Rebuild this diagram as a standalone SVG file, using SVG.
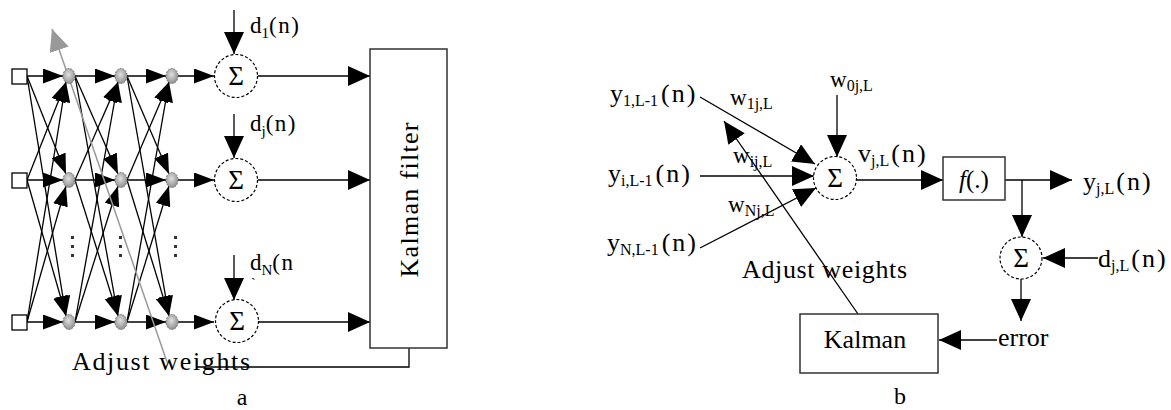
<svg xmlns="http://www.w3.org/2000/svg" width="1171" height="410" viewBox="0 0 1171 410">
<defs>
<style>
text{font-family:"Liberation Serif","DejaVu Serif",serif;fill:#000}
.ta{font-size:23px}
.tb{font-size:26px}
.sa{font-size:15px}
.sb{font-size:16px}
.ln{stroke:#000;stroke-width:1.3;fill:none}
.sm{marker-end:url(#ah)}
.bg{marker-end:url(#big)}
.sig{fill:#fff;stroke:#000;stroke-width:1.2;stroke-dasharray:3 2}
.sq{fill:#fff;stroke:#000;stroke-width:1.3}
.nd{fill:url(#ng);stroke:#777;stroke-width:1;stroke-dasharray:2 1}
.bx{fill:#fff;stroke:#333;stroke-width:1.5}
.sym{font-size:27px;text-anchor:middle}
</style>
<radialGradient id="ng" cx="0.45" cy="0.4" r="0.6">
<stop offset="0" stop-color="#e0e0e0"/>
<stop offset="1" stop-color="#8f8f8f"/>
</radialGradient>
<marker id="ah" markerUnits="userSpaceOnUse" markerWidth="20" markerHeight="15" refX="20" refY="7.5" orient="auto"><path d="M0,0 L20,7.5 L0,15z" fill="#000"/></marker>
<marker id="big" markerUnits="userSpaceOnUse" markerWidth="22" markerHeight="20" refX="22" refY="10" orient="auto"><path d="M0,0 L22,10 L0,20z" fill="#000"/></marker>
<marker id="gr" markerUnits="userSpaceOnUse" markerWidth="22" markerHeight="20" refX="22" refY="10" orient="auto"><path d="M0,0 L22,10 L0,20z" fill="#999"/></marker>
</defs>
<rect width="1171" height="410" fill="#fff"/>

<!-- Part a connectors -->
<g id="connectors-a">
<line class="ln sm" x1="27" y1="76" x2="63" y2="76"/>
<line class="ln sm" x1="75" y1="76" x2="115" y2="76"/>
<line class="ln sm" x1="127" y1="76" x2="166" y2="76"/>
<line class="ln sm" x1="178" y1="76" x2="214" y2="76"/>
<line class="ln sm" x1="27" y1="180" x2="63" y2="180"/>
<line class="ln sm" x1="75" y1="180" x2="115" y2="180"/>
<line class="ln sm" x1="127" y1="180" x2="166" y2="180"/>
<line class="ln sm" x1="178" y1="180" x2="214" y2="180"/>
<line class="ln sm" x1="27" y1="322" x2="63" y2="322"/>
<line class="ln sm" x1="75" y1="322" x2="115" y2="322"/>
<line class="ln sm" x1="127" y1="322" x2="166" y2="322"/>
<line class="ln sm" x1="178" y1="322" x2="214" y2="322"/>
<line class="ln sm" x1="27" y1="76" x2="66" y2="174"/>
<line class="ln sm" x1="27" y1="76" x2="66" y2="316"/>
<line class="ln sm" x1="27" y1="180" x2="66" y2="82"/>
<line class="ln sm" x1="27" y1="180" x2="66" y2="316"/>
<line class="ln sm" x1="27" y1="322" x2="66" y2="82"/>
<line class="ln sm" x1="27" y1="322" x2="66" y2="186"/>
<line class="ln sm" x1="75" y1="76" x2="118" y2="174"/>
<line class="ln sm" x1="75" y1="76" x2="118" y2="316"/>
<line class="ln sm" x1="75" y1="180" x2="118" y2="82"/>
<line class="ln sm" x1="75" y1="180" x2="118" y2="316"/>
<line class="ln sm" x1="75" y1="322" x2="118" y2="82"/>
<line class="ln sm" x1="75" y1="322" x2="118" y2="186"/>
<line class="ln sm" x1="127" y1="76" x2="169" y2="174"/>
<line class="ln sm" x1="127" y1="76" x2="169" y2="316"/>
<line class="ln sm" x1="127" y1="180" x2="169" y2="82"/>
<line class="ln sm" x1="127" y1="180" x2="169" y2="316"/>
<line class="ln sm" x1="127" y1="322" x2="169" y2="82"/>
<line class="ln sm" x1="127" y1="322" x2="169" y2="186"/>
<line class="ln bg" x1="234" y1="10" x2="234" y2="54"/>
<line class="ln bg" x1="234" y1="114" x2="234" y2="158"/>
<line class="ln bg" x1="234" y1="255" x2="234" y2="300"/>
<line class="ln bg" x1="258" y1="76" x2="370" y2="76"/>
<line class="ln bg" x1="258" y1="180" x2="370" y2="180"/>
<line class="ln bg" x1="259" y1="322" x2="370" y2="322"/>
<polyline class="ln" points="409,348 409,367 196,367"/>
<line x1="167" y1="362" x2="52" y2="29" stroke="#999" stroke-width="1.5" marker-end="url(#gr)"/>
</g>

<!-- Part a nodes -->
<g id="inputs-a">
<rect class="sq" x="12" y="69" width="15" height="15"/>
<rect class="sq" x="12" y="173" width="15" height="15"/>
<rect class="sq" x="12" y="315" width="15" height="15"/>
</g>
<g id="hidden-a">
<ellipse class="nd" cx="69" cy="76" rx="6" ry="7.5"/>
<ellipse class="nd" cx="121" cy="76" rx="6" ry="7.5"/>
<ellipse class="nd" cx="172" cy="76" rx="6" ry="7.5"/>
<ellipse class="nd" cx="69" cy="180" rx="6" ry="7.5"/>
<ellipse class="nd" cx="121" cy="180" rx="6" ry="7.5"/>
<ellipse class="nd" cx="172" cy="180" rx="6" ry="7.5"/>
<ellipse class="nd" cx="69" cy="322" rx="6" ry="7.5"/>
<ellipse class="nd" cx="121" cy="322" rx="6" ry="7.5"/>
<ellipse class="nd" cx="172" cy="322" rx="6" ry="7.5"/>
<g fill="#333">
<rect x="71" y="236" width="3" height="3"/><rect x="71" y="245" width="3" height="3"/><rect x="71" y="254" width="3" height="3"/>
<rect x="119" y="236" width="3" height="3"/><rect x="119" y="245" width="3" height="3"/><rect x="119" y="254" width="3" height="3"/>
<rect x="174" y="236" width="3" height="3"/><rect x="174" y="245" width="3" height="3"/><rect x="174" y="254" width="3" height="3"/>
</g>
</g>
<g id="sum-a1">
<circle class="sig" cx="236" cy="76" r="21.5"/>
<text class="sym" x="236" y="85">Σ</text>
<text class="ta" x="250" y="33">d<tspan class="sa" dy="5">1</tspan><tspan dy="-5" letter-spacing="1.5">(n)</tspan></text>
</g>
<g id="sum-aj">
<circle class="sig" cx="236" cy="180" r="21.5"/>
<text class="sym" x="236" y="189">Σ</text>
<text class="ta" x="250" y="131">d<tspan class="sa" dy="5">j</tspan><tspan dy="-5" letter-spacing="1.5">(n)</tspan></text>
</g>
<g id="sum-aN">
<circle class="sig" cx="237" cy="321" r="21.5"/>
<text class="sym" x="237" y="330">Σ</text>
<text class="ta" x="250" y="270">d<tspan class="sa" dy="5">N</tspan><tspan dy="-5" letter-spacing="1.5">(n</tspan></text>
<text x="251" y="288" font-size="14">`</text>
</g>
<g id="kalman-filter">
<rect class="bx" x="370" y="49" width="77" height="299"/>
<text transform="translate(418,200) rotate(-90)" font-size="26" text-anchor="middle" textLength="155" lengthAdjust="spacing">Kalman filter</text>
</g>
<text class="tb" x="72" y="370" textLength="178" lengthAdjust="spacing">Adjust weights</text>
<text x="242" y="405" font-size="24" text-anchor="middle">a</text>

<!-- Part b connectors -->
<g id="connectors-b">
<line class="ln bg" x1="700" y1="97" x2="815" y2="164"/>
<line class="ln bg" x1="700" y1="176" x2="814" y2="176"/>
<line class="ln bg" x1="700" y1="248" x2="816" y2="188"/>
<line class="ln bg" x1="837" y1="95" x2="837" y2="157"/>
<line class="ln bg" x1="857" y1="180" x2="943" y2="180"/>
<line class="ln bg" x1="1005" y1="180" x2="1072" y2="180"/>
<line class="ln bg" x1="1022" y1="180" x2="1022" y2="237"/>
<line class="ln bg" x1="1098" y1="258" x2="1043" y2="258"/>
<line class="ln bg" x1="1021" y1="279" x2="1021" y2="321"/>
<line class="ln bg" x1="997" y1="340" x2="939" y2="340"/>
<line class="ln bg" x1="858" y1="314" x2="724" y2="121"/>
</g>
<g id="inputs-b">
<text class="tb" x="610" y="102">y<tspan class="sb" dy="4">1,L-1</tspan><tspan dx="3" dy="-4" letter-spacing="2">(n)</tspan></text>
<text class="tb" x="608" y="182">y<tspan class="sb" dy="4">i,L-1</tspan><tspan dx="3" dy="-4" letter-spacing="2">(n)</tspan></text>
<text class="tb" x="607" y="251">y<tspan class="sb" dy="4">N,L-1</tspan><tspan dx="3" dy="-4" letter-spacing="2">(n)</tspan></text>
</g>
<g id="weights-b">
<text class="ta" x="830" y="87">w<tspan class="sb" dy="4">0j,L</tspan></text>
<text class="ta" x="730" y="105">w<tspan class="sb" dy="4">1j,L</tspan></text>
<text class="ta" x="733" y="163">w<tspan class="sb" dy="4">ij,L</tspan></text>
<text class="ta" x="728" y="212">w<tspan class="sb" dy="4">Nj,L</tspan></text>
</g>
<g id="sum-b">
<circle class="sig" cx="835" cy="178" r="21.5"/>
<text class="sym" x="835" y="187">Σ</text>
<text class="tb" x="858" y="162">v<tspan class="sb" dy="4">j,L</tspan><tspan dx="2" dy="-4" letter-spacing="2">(n)</tspan></text>
</g>
<g id="activation-b">
<rect class="bx" x="943" y="157" width="62" height="43"/>
<text x="974" y="188" font-size="25" text-anchor="middle"><tspan font-style="italic">f</tspan>(.)</text>
</g>
<g id="output-b">
<text class="tb" x="1083" y="190">y<tspan class="sb" dy="4">j,L</tspan><tspan dx="2" dy="-4" letter-spacing="2">(n)</tspan></text>
</g>
<g id="error-sum-b">
<circle class="sig" cx="1021" cy="258" r="21"/>
<text class="sym" x="1021" y="267">Σ</text>
<text class="tb" x="1098" y="267">d<tspan class="sb" dy="4">j,L</tspan><tspan dx="2" dy="-4" letter-spacing="2">(n)</tspan></text>
<text class="tb" x="998" y="346">error</text>
</g>
<g id="kalman-b">
<rect class="bx" x="800" y="314" width="138" height="59"/>
<text class="tb" x="865" y="348" text-anchor="middle">Kalman</text>
</g>
<text class="tb" x="742" y="278" textLength="165" lengthAdjust="spacing">Adjust weights</text>
<text x="900" y="404" font-size="24" text-anchor="middle">b</text>
</svg>
